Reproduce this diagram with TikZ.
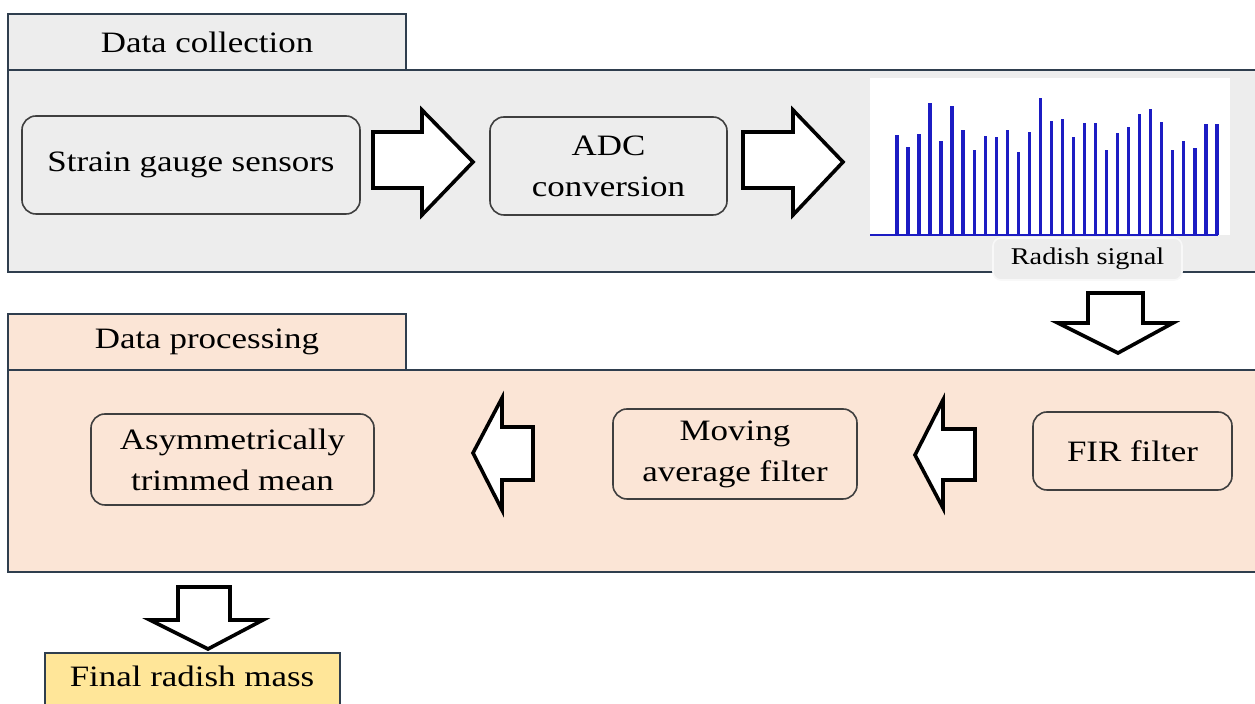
\documentclass[tikz,border=0pt]{standalone}
\usepackage{fontspec}
\setmainfont{Liberation Serif}[FakeStretch=1.18]
\definecolor{grayfill}{HTML}{EDEDED}
\definecolor{peach}{HTML}{FBE5D6}
\definecolor{gold}{HTML}{FFE699}
\definecolor{frame}{HTML}{2F3E4E}
\definecolor{boxline}{HTML}{3F3F3F}
\definecolor{sig}{RGB}{28,28,195}
\definecolor{softline}{HTML}{F8F8F8}
\begin{document}
\begin{tikzpicture}[x=0.5pt,y=-0.5pt,
  txt/.style={font=\fontsize{14.8}{20.5}\selectfont, text=black},
  panel/.style={draw=frame, line width=1pt, inner sep=0pt},
  stage/.style={draw=boxline, line width=0.8pt, rounded corners=7pt, inner sep=0pt, align=center, txt},
  blockarrow/.style={draw=black, fill=white, line width=1.8pt, line join=miter},
  bar/.style={draw=sig, line width=1.7pt}]
\useasboundingbox (0,0) rectangle (1255,704);
\clip (0,0) rectangle (1255,704);

% ---------- Data collection ----------
\node[panel, fill=grayfill, minimum width=628.5pt, minimum height=101pt] (colpanel) at (636.5,171) {};
\node[panel, fill=grayfill, minimum width=199pt, minimum height=28pt, txt] (coltab) at (207,42) {Data collection};

\node[stage, fill=grayfill, minimum width=169pt, minimum height=49pt] (strain) at (191,165) {Strain gauge sensors};
\node[stage, fill=grayfill, minimum width=118.5pt, minimum height=49pt] (adc) at (608.5,166) {ADC\\conversion};

% signal plot
\node[fill=white, inner sep=0pt, minimum width=180pt, minimum height=78.5pt] (plot) at (1050,156.5) {};
\draw[draw=sig, line width=0.8pt] (870,235) -- (1218,235);
\foreach \t [count=\i from 0] in {135,147.3,134.3,103.3,141,105.7,130,150,136.3,136.7,130.3,152.3,132,98.3,121,119,137,123.3,123.3,150,133,127,114,108.7,121.7,150.3,140.7,148.3,124.3,124.3}
  \draw[bar] ({897+\i*11.03},235) -- ({897+\i*11.03},\t);

\node[draw=softline, line width=0.8pt, fill=grayfill, rounded corners=4pt, inner sep=0pt,
      minimum width=94.5pt, minimum height=21pt, font=\fontsize{12}{14}\selectfont] (radish) at (1087.5,259) {Radish signal};

% arrows in collection panel
\draw[blockarrow] (373,132) -- (422,132) -- (422,110) -- (473,162) -- (422,215) -- (422,188) -- (373,188) -- cycle;
\draw[blockarrow] (743,132) -- (793,132) -- (793,110) -- (843,162) -- (793,215) -- (793,188) -- (743,188) -- cycle;

% down arrow to processing
\draw[blockarrow] (1088,293) -- (1143,293) -- (1143,323) -- (1173,323) -- (1118,353) -- (1058,323) -- (1088,323) -- cycle;

% ---------- Data processing ----------
\node[panel, fill=peach, minimum width=628.5pt, minimum height=101pt] (procpanel) at (636.5,471) {};
\node[panel, fill=peach, minimum width=199pt, minimum height=28pt, txt] (proctab) at (207,342) {Data processing};

\node[stage, fill=peach, minimum width=141.5pt, minimum height=45.5pt] (atm) at (232.5,459.5) {Asymmetrically\\trimmed mean};
\node[stage, fill=peach, minimum width=122pt, minimum height=45pt] (maf) at (735,454) {Moving\\average filter};
\node[stage, fill=peach, minimum width=99.5pt, minimum height=39pt] (fir) at (1132.5,451) {FIR filter};

% left arrows
\draw[blockarrow] (533,427) -- (502,427) -- (502,398) -- (473,453) -- (502,510) -- (502,480) -- (533,480) -- cycle;
\draw[blockarrow] (975,429) -- (943,429) -- (943,400) -- (915,455) -- (943,508) -- (943,480) -- (975,480) -- cycle;

% down arrow to result
\draw[blockarrow] (178,587) -- (230,587) -- (230,620) -- (263,620) -- (208,649) -- (150,620) -- (178,620) -- cycle;

% ---------- Result ----------
\node[draw=frame, line width=1pt, fill=gold, inner sep=0pt, minimum width=147.5pt, minimum height=31.5pt] (finalbox) at (192.5,684.5) {};
\node[txt] (final) at (192,676) {Final radish mass};
\end{tikzpicture}
\end{document}
